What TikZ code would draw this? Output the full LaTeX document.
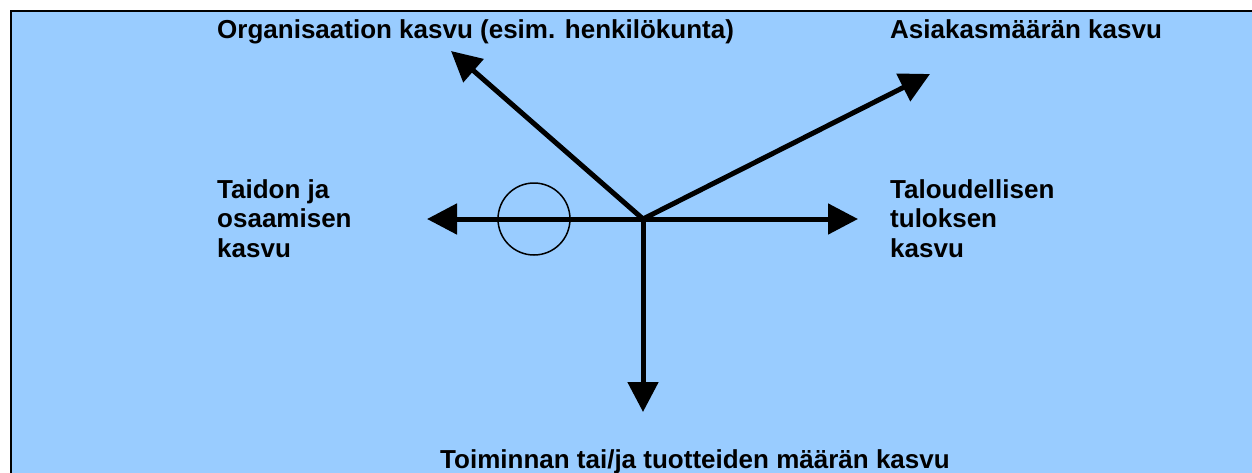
\documentclass[tikz,border=0pt]{standalone}
\usepackage{fontspec}
\setmainfont{Liberation Sans}
\usetikzlibrary{arrows.meta}
\definecolor{skyfill}{HTML}{99CCFF}

\begin{document}
\begin{tikzpicture}[x=1pt, y=-1pt, >={Triangle[length=30pt, width=30pt]},
    label/.style={anchor=base west, inner sep=0pt, align=left, font=\fontsize{26}{29.5}\selectfont\bfseries}]
    \useasboundingbox(0, 0)rectangle(1252, 472);
    \draw[line width=2.5pt, fill=skyfill](11, 11)rectangle(1270, 490);
    \coordinate(O)at(643, 219);
    \coordinate(org)at(451, 51);
    \coordinate(asi)at(930, 74);
    \coordinate(tai)at(427, 219);
    \coordinate(tal)at(858, 219);
    \coordinate(toi)at(643, 412);
    \draw[line width=5pt, ->](O)--(org);
    \draw[line width=5pt, ->](O)--(asi);
    \draw[line width=5pt, ->](O)--(tai);
    \draw[line width=5pt, ->](O)--(tal);
    \draw[line width=5pt, ->](O)--(toi);
    \draw[line width=1.5pt](534, 219)circle[radius=36];
    \node[label](orgtext)at(217, 38){Organisaation kasvu (esim. henkilökunta)};
    \node[label](asitext)at(890, 38){Asiakasmäärän kasvu};
    % base is the last line here
    \node[label](taitext)at(217, 257){Taidon ja\\osaamisen\\kasvu};
    \node[label](taltext)at(890, 257){Taloudellisen\\tuloksen\\kasvu};
    \node[label](toitext)at(440, 468){Toiminnan tai/ja tuotteiden määrän kasvu};
\end{tikzpicture}
\end{document}
